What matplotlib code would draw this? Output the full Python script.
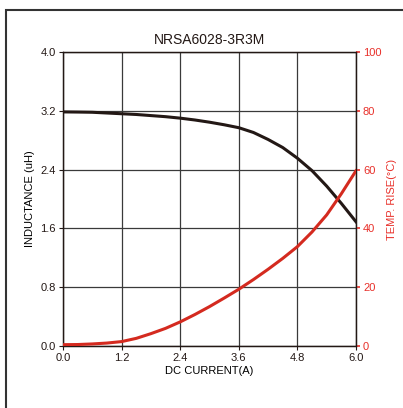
import matplotlib.pyplot as plt
from matplotlib.patches import Rectangle

current = [0.0, 0.3, 0.6, 0.9, 1.2, 1.5, 1.8, 2.1, 2.4, 2.7, 3.0,
           3.3, 3.6, 3.9, 4.2, 4.5, 4.8, 5.1, 5.4, 5.7, 6.0]
inductance = [3.185, 3.183, 3.18, 3.17, 3.16, 3.15, 3.135, 3.12, 3.10, 3.075, 3.045,
              3.01, 2.97, 2.905, 2.81, 2.70, 2.555, 2.385, 2.175, 1.94, 1.69]
temp_rise = [0.45, 0.5, 0.7, 1.0, 1.5, 2.6, 4.2, 6.0, 8.2, 10.7, 13.4,
             16.3, 19.3, 22.6, 26.1, 29.8, 33.8, 38.8, 44.6, 51.8, 59.6]

x_ticks = [0.0, 1.2, 2.4, 3.6, 4.8, 6.0]
l_ticks = [0.0, 0.8, 1.6, 2.4, 3.2, 4.0]
r_ticks = [0, 20, 40, 60, 80, 100]

plt.rcParams['font.family'] = ['Liberation Sans', 'DejaVu Sans']
RED = '#e8302a'

fig = plt.figure(figsize=(4.03, 4.08), dpi=100)
fig.patches.append(Rectangle((6 / 403, -0.1), 1.2, 1.1 - 10 / 408, transform=fig.transFigure,
                             fill=False, edgecolor='#333333', linewidth=1.5))
ax = fig.add_axes([63 / 403, 1 - 346 / 408, 293 / 403, 294 / 408])

ax.plot(current, inductance, color='#231815', linewidth=2.2, zorder=3,
        solid_joinstyle='round')
ax.set_xlim(0, 6)
ax.set_ylim(0, 4)
ax.set_xticks(x_ticks)
ax.set_yticks(l_ticks)
ax.set_xticklabels([f'{v:.1f}' for v in x_ticks])
ax.set_yticklabels([f'{v:.1f}' for v in l_ticks])
ax.grid(True, color='#3a3a3a', linewidth=0.9)
ax.tick_params(labelsize=8, length=3, width=0.8, colors='#231815', pad=2)
ax.set_xlabel('DC CURRENT(A)', fontsize=8, labelpad=2)
ax.set_ylabel('INDUCTANCE (uH)', fontsize=8, labelpad=4)
ax.set_title('NRSA6028-3R3M', fontsize=10, pad=6, color='#231815')
for s in ax.spines.values():
    s.set_color('#231815')
    s.set_linewidth(0.9)

ax2 = ax.twinx()
ax2.plot(current, temp_rise, color='#d42a1f', linewidth=2.2, zorder=3,
         solid_joinstyle='round')
ax2.set_ylim(0, 100)
ax2.set_yticks(r_ticks)
ax2.tick_params(labelsize=8, length=3, width=1.2, colors=RED, pad=2)
ax2.set_ylabel('TEMP. RISE(°C)', fontsize=8, color=RED, labelpad=4)
for s in ax2.spines.values():
    s.set_color('#231815')
    s.set_linewidth(0.9)

plt.savefig('out.png', dpi=100)
